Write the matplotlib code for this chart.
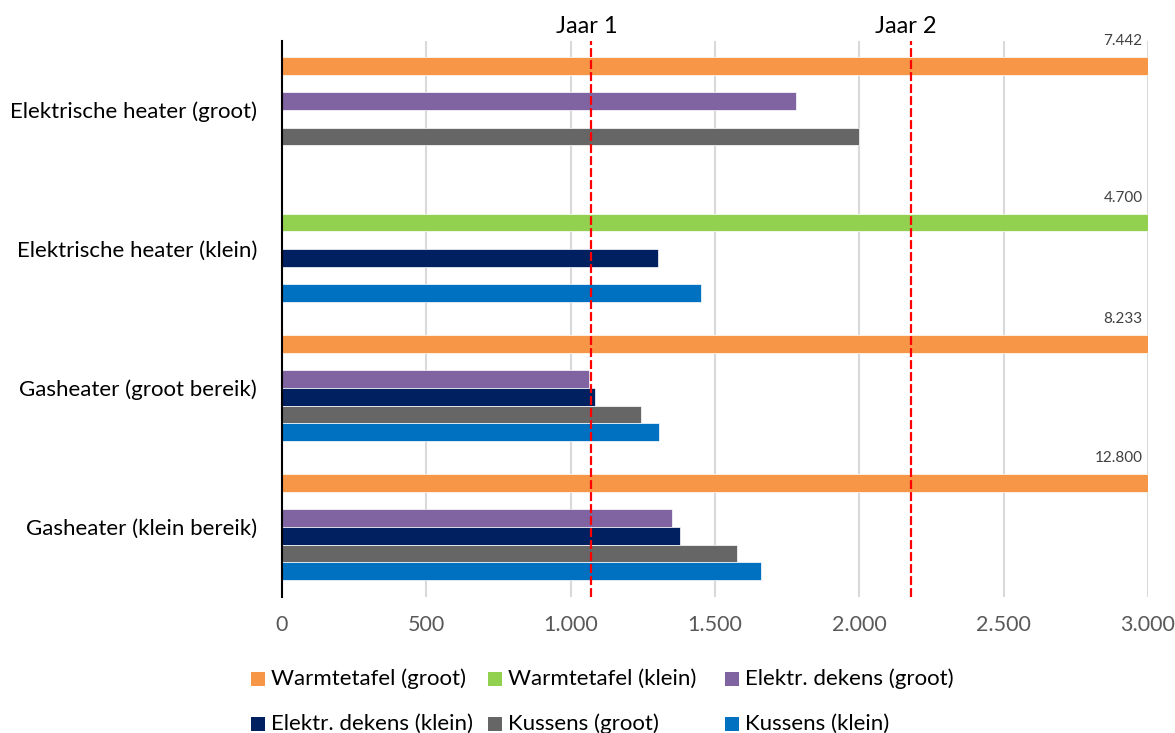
import matplotlib
matplotlib.use("Agg")
import matplotlib.pyplot as plt
from matplotlib.patches import Rectangle
from matplotlib.ticker import FuncFormatter, MultipleLocator

plt.rcParams['font.family'] = ['Lato', 'DejaVu Sans']

# ---- data -------------------------------------------------------------
categories = [
    'Elektrische heater (groot)',
    'Elektrische heater (klein)',
    'Gasheater (groot bereik)',
    'Gasheater (klein bereik)',
]
series_names = [
    'Warmtetafel (groot)',
    'Warmtetafel (klein)',
    'Elektr. dekens (groot)',
    'Elektr. dekens (klein)',
    'Kussens (groot)',
    'Kussens (klein)',
]
warmtetafel_groot = [7442, None, 8233, 12800]
warmtetafel_klein = [None, 4700, None, None]
dekens_groot = [1781, None, 1063, 1351]
dekens_klein = [None, 1303, 1083, 1379]
kussens_groot = [2000, None, 1243, 1577]
kussens_klein = [None, 1452, 1305, 1659]
jaar_labels = ['Jaar 1', 'Jaar 2']
jaar_values = [1072, 2178]
x_max = 3000

series_values = [warmtetafel_groot, warmtetafel_klein, dekens_groot,
                 dekens_klein, kussens_groot, kussens_klein]
colors = ['#F79646', '#92D050', '#8064A2', '#002060', '#666666', '#0070C0']


def nl_format(v, pos=None):
    return f"{int(round(v)):,}".replace(',', '.')


# ---- figure -----------------------------------------------------------
W, H = 1175, 733
fig = plt.figure(figsize=(W / 100, H / 100), dpi=100)
ax = fig.add_axes([282 / W, 1 - 596.5 / H, 866 / W, 556 / H])

n_series = len(series_values)
slot = 0.1266
for s, (vals, col) in enumerate(zip(series_values, colors)):
    for c, v in enumerate(vals):
        if v is None:
            continue
        y = c + (s - (n_series - 1) / 2) * slot
        ax.barh(y, v, height=slot, color=col, edgecolor='white',
                linewidth=0.5, zorder=3)
        if v > x_max:
            ax.annotate(nl_format(v), xy=(x_max, y), xytext=(-4, 18),
                        textcoords='offset points', ha='right', va='center',
                        fontsize=11, color='#404040', zorder=5,
                        annotation_clip=False)

ax.set_xlim(0, x_max)
ax.set_ylim(len(categories) - 0.5, -0.5)
ax.set_yticks(range(len(categories)))
ax.set_yticklabels(categories, fontsize=16, color='#000000')
ax.xaxis.set_major_locator(MultipleLocator(500))
ax.xaxis.set_major_formatter(FuncFormatter(nl_format))
ax.tick_params(axis='x', length=0, pad=13, labelsize=15.5, labelcolor='#595959')
ax.tick_params(axis='y', length=0, pad=18)
ax.grid(axis='x', color='#D9D9D9', linewidth=1.5, zorder=0)
ax.set_axisbelow(True)
for side in ['top', 'right', 'bottom']:
    ax.spines[side].set_visible(False)
ax.spines['left'].set_color('#000000')
ax.spines['left'].set_linewidth(1.5)
ax.spines['left'].set_zorder(4)

# year markers
for label, xv in zip(jaar_labels, jaar_values):
    ax.axvline(xv, color='#FF0000', linewidth=1.6,
               linestyle=(0, (4.0, 1.4)), zorder=6)
    ax.annotate(label, xy=(xv, 1), xycoords=('data', 'axes fraction'),
                xytext=(-3.5, 10), textcoords='offset points',
                ha='center', va='center', fontsize=17, color='#000000',
                annotation_clip=False)

# legend
col_x = [251, 488, 725]
row_y = [679, 724]
for i, (name, col) in enumerate(zip(series_names, colors)):
    r, c = divmod(i, 3)
    x0, yc = col_x[c], row_y[r]
    fig.add_artist(Rectangle((x0 / W, 1 - (yc + 7) / H), 14 / W, 14 / H,
                             transform=fig.transFigure, facecolor=col,
                             edgecolor='none'))
    fig.text((x0 + 20) / W, 1 - yc / H, name, ha='left', va='center',
             fontsize=16, color='#000000')

fig.savefig('out.png', dpi=100)
